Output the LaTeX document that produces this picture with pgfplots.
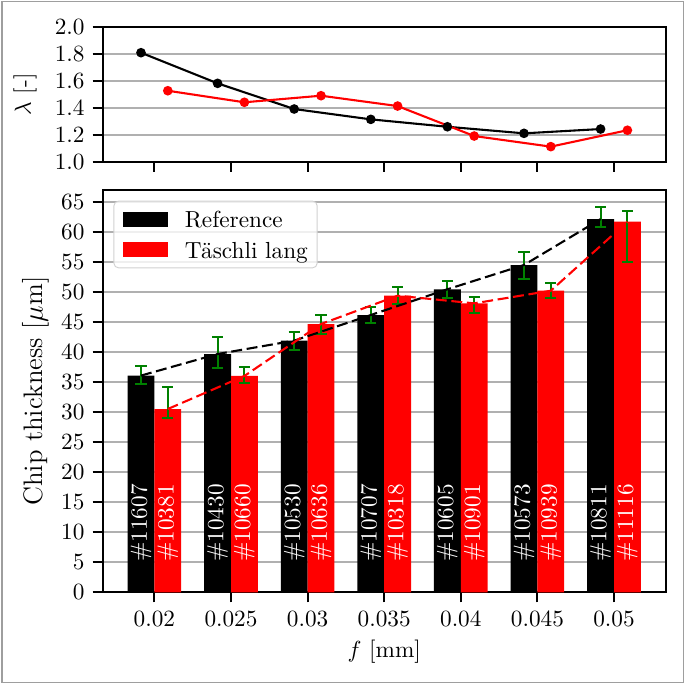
\documentclass[border=0pt]{standalone}
\usepackage{fontspec}
\usepackage{pgfplots}
\usepackage{pgfplotstable}
\pgfplotsset{compat=1.18}
\definecolor{mplgreen}{RGB}{0,128,0}
\definecolor{gridgray}{RGB}{176,176,176}

\pgfplotstableread{
x lam
0 1.811
1 1.583
2 1.392
3 1.315
4 1.260
5 1.211
6 1.243
}\lamref
\pgfplotstableread{
x lam
0 1.528
1 1.442
2 1.491
3 1.414
4 1.191
5 1.112
6 1.234
}\lamta
\pgfplotstableread{
x y ep em id
0 36.06 1.66 1.38 11607
1 39.65 2.83 2.28 10430
2 41.87 1.50 1.55 10530
3 46.14 1.38 1.38 10707
4 50.42 1.43 1.45 10605
5 54.46 2.16 2.28 10573
6 62.10 1.95 1.38 10811
}\thkref
\pgfplotstableread{
x y ep em id
0 30.50 3.70 1.45 10381
1 36.00 1.45 1.21 10660
2 44.64 1.50 1.66 10636
3 49.35 1.50 1.38 10318
4 48.08 1.00 1.66 10901
5 50.18 1.33 1.21 10939
6 61.66 1.78 6.66 11116
}\thkta

\newcommand{\tenpt}{\fontsize{10}{12}\selectfont}
\pgfplotsset{
  common/.style={
    scale only axis, anchor=south west,
    width=242.09pt,
    xmin=-0.675, xmax=6.675,
    xtick={0,1,2,3,4,5,6},
    tick align=outside, major tick length=4.3pt,
    xtick pos=bottom, ytick pos=left,
    axis line style={line width=0.9pt},
    tick style={black, line width=0.8pt},
    ymajorgrids, major grid style={gridgray, line width=0.8pt},
    every axis y label/.style={rotate=90, anchor=center},
    every axis x label/.style={at={(axis description cs:0.5,0)}, yshift=-25.5pt, anchor=center, font=\tenpt},
  },
}

\begin{document}
\begin{tikzpicture}
\useasboundingbox (0,0) rectangle (294.55pt,-294.12pt);
\draw[black!38, line width=0.6pt] (0.8pt,-0.6pt) rectangle (293.8pt,-293.6pt);

\begin{axis}[common,
  at={(44.16pt,-69.53pt)}, height=57.79pt,
  ymin=1, ymax=2, ytick={1,1.2,1.4,1.6,1.8,2},
  xticklabels={},
  yticklabel style={/pgf/number format/.cd, fixed, fixed zerofill, precision=1},
  ylabel={$\lambda$ [-]},
  ylabel style={at={(axis description cs:-0.138,0.5)}, font=\tenpt},
]
\addplot[black, line width=0.9pt, mark=*, mark size=1.6pt] table[x expr=\thisrow{x}-0.175, y=lam]{\lamref};
\addplot[red, line width=0.9pt, mark=*, mark size=1.6pt] table[x expr=\thisrow{x}+0.175, y=lam]{\lamta};
\end{axis}

\begin{axis}[common,
  at={(44.16pt,-254.69pt)}, height=172.99pt,
  ymin=0, ymax=66.94, ytick={0,5,10,15,20,25,30,35,40,45,50,55,60,65},
  xticklabels={0.02,0.025,0.03,0.035,0.04,0.045,0.05},
  ylabel={Chip thickness [$\mu$m]},
  ylabel style={at={(axis description cs:-0.1185,0.5)}, font=\fontsize{11.5}{13}\selectfont},
  xlabel={$f$ [mm]},
  legend style={at={(0.0191,0.9735)}, anchor=north west, draw=black!18,
    rounded corners=2pt, fill=white, fill opacity=0.8, text opacity=1,
    inner xsep=3.9pt, inner ysep=1.7pt, row sep=0.7pt, column sep=7.3pt,
    font=\tenpt,
    nodes={inner xsep=0.1pt, inner ysep=1.5pt, text height=8.3pt, text depth=1pt},
    cells={anchor=west}},
]
\addplot[ybar, bar width=0.35, fill=black, draw=none, forget plot,
  error bars/.cd, y dir=both, y explicit,
  error bar style={mplgreen, line width=0.85pt},
  error mark options={mplgreen, rotate=90, mark size=2.4pt, line width=0.85pt}]
  table[x expr=\thisrow{x}-0.175, y=y, y error plus=ep, y error minus=em]{\thkref};
\addplot[ybar, bar width=0.35, fill=red, draw=none, forget plot,
  error bars/.cd, y dir=both, y explicit,
  error bar style={mplgreen, line width=0.85pt},
  error mark options={mplgreen, rotate=90, mark size=2.4pt, line width=0.85pt}]
  table[x expr=\thisrow{x}+0.175, y=y, y error plus=ep, y error minus=em]{\thkta};
\addplot[black, line width=0.9pt, dash pattern=on 4.7pt off 2pt, forget plot]
  table[x expr=\thisrow{x}-0.175, y=y]{\thkref};
\addplot[red, line width=0.9pt, dash pattern=on 4.7pt off 2pt, forget plot]
  table[x expr=\thisrow{x}+0.175, y=y]{\thkta};
\addplot[draw=none, forget plot, point meta=explicit symbolic,
  nodes near coords={\#\pgfplotspointmeta},
  nodes near coords style={rotate=90, anchor=west, inner sep=0pt, text=white, font=\tenpt}]
  table[x expr=\thisrow{x}-0.175, y expr=5, meta=id]{\thkref};
\addplot[draw=none, forget plot, point meta=explicit symbolic,
  nodes near coords={\#\pgfplotspointmeta},
  nodes near coords style={rotate=90, anchor=west, inner sep=0pt, text=white, font=\tenpt}]
  table[x expr=\thisrow{x}+0.175, y expr=5, meta=id]{\thkta};
\addlegendimage{legend image code/.code={\fill[black, sharp corners, fill opacity=1] (0pt,-3.1pt) rectangle (18.8pt,3.1pt);}}
\addlegendentry{Reference}
\addlegendimage{legend image code/.code={\fill[red, sharp corners, fill opacity=1] (0pt,-3.1pt) rectangle (18.8pt,3.1pt);}}
\addlegendentry{Täschli lang}
\end{axis}
\end{tikzpicture}
\end{document}
